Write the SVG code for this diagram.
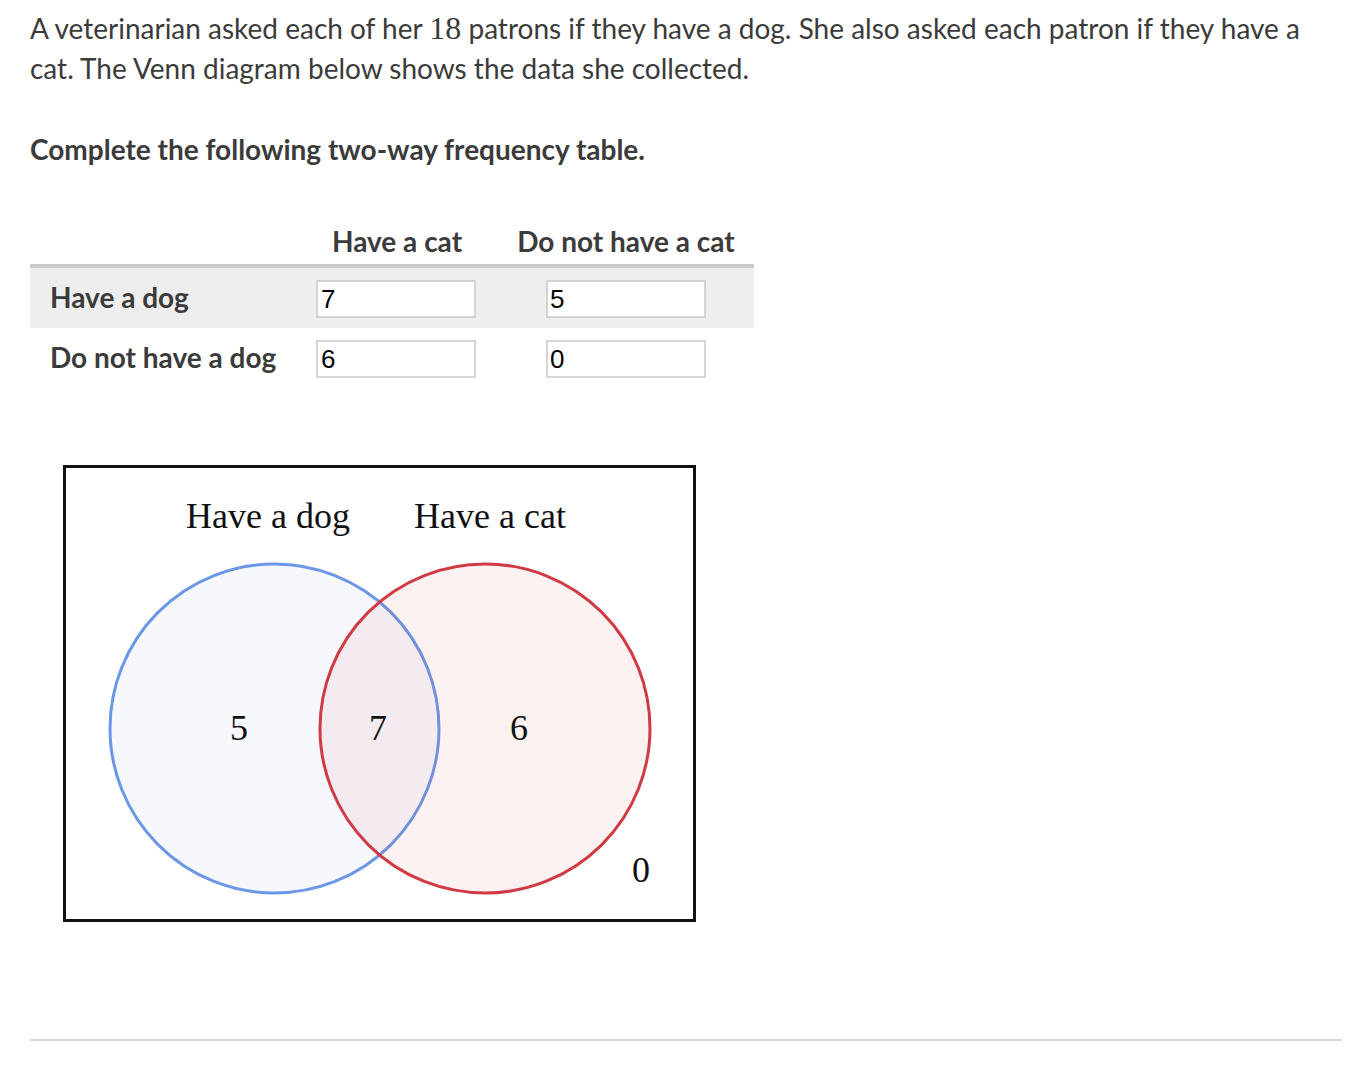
<svg xmlns="http://www.w3.org/2000/svg" width="1354" height="1070" viewBox="0 0 1354 1070">
<style>
.t{font-family:Lato,"Open Sans","Liberation Sans",sans-serif;font-size:28px;fill:#3b3b3b}
.b{font-family:Lato,"Open Sans","Liberation Sans",sans-serif;font-size:28px;font-weight:bold;fill:#3b3b3b}
.m{font-family:"Liberation Serif","DejaVu Serif",serif}
.in{fill:#fff;stroke:#c8c8c8;stroke-width:1.5}
.v{font-family:"Liberation Sans",Arial,sans-serif;font-size:26px;fill:#000}
.s{font-family:"Liberation Serif","DejaVu Serif",serif;font-size:36px;fill:#111}
</style>
<rect width="1354" height="1070" fill="#fff"/>
<g id="prompt">
<text class="t" x="30" y="39">A veterinarian asked each of her <tspan class="m" font-size="32">18</tspan> patrons if they have a dog. She also asked each patron if they have a</text>
<text class="t" x="30" y="79">cat. The Venn diagram below shows the data she collected.</text>
<text class="b" x="30" y="160">Complete the following two-way frequency table.</text>
</g>
<g id="table">
<text class="b" x="397" y="252" text-anchor="middle">Have a cat</text>
<text class="b" x="626" y="252" text-anchor="middle">Do not have a cat</text>
<rect x="30" y="268" width="724" height="60" fill="#eeeeee"/>
<rect x="30" y="264" width="724" height="4" fill="#cccccc"/>
<text class="b" x="50" y="308">Have a dog</text>
<text class="b" x="50" y="368">Do not have a dog</text>
<rect class="in" x="317" y="281" width="158" height="36"/>
<rect class="in" x="547" y="281" width="158" height="36"/>
<rect class="in" x="317" y="341" width="158" height="36"/>
<rect class="in" x="547" y="341" width="158" height="36"/>
<text class="v" x="321" y="308">7</text>
<text class="v" x="550" y="308">5</text>
<text class="v" x="321" y="368">6</text>
<text class="v" x="550" y="368">0</text>
</g>
<g id="venn">
<rect x="64.5" y="466.5" width="630" height="454" fill="#fff" stroke="#111" stroke-width="3"/>
<text class="s" x="268" y="528" text-anchor="middle">Have a dog</text>
<text class="s" x="490" y="528" text-anchor="middle">Have a cat</text>
<ellipse id="dog" cx="274.5" cy="728.5" rx="164.5" ry="164.5" fill="#4a7fe0" fill-opacity="0.05" stroke="#6b97e6" stroke-width="3"/>
<ellipse id="cat" cx="485" cy="728.5" rx="165" ry="164.5" fill="#e0404a" fill-opacity="0.07" stroke="#d03a44" stroke-width="3"/>
<text class="s" x="239" y="740" text-anchor="middle">5</text>
<text class="s" x="378" y="740" text-anchor="middle">7</text>
<text class="s" x="519" y="740" text-anchor="middle">6</text>
<text class="s" x="641" y="882" text-anchor="middle">0</text>
</g>
<rect x="30" y="1039" width="1312" height="2" fill="#d8d8d8"/>
</svg>
